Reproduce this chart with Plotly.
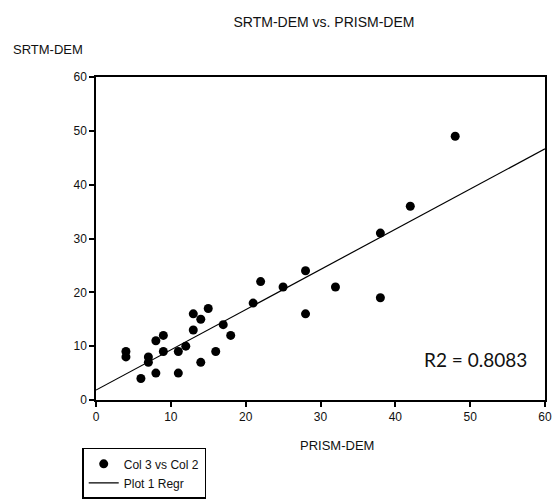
import numpy as np
import plotly.graph_objects as go

# Data
prism_dem = [4, 4, 6, 7, 7, 8, 8, 9, 9, 11, 11, 12, 13, 13, 14, 14, 15, 16, 17, 18,
             21, 22, 25, 28, 28, 32, 38, 38, 42, 48]
srtm_dem = [9, 8, 4, 8, 7, 5, 11, 12, 9, 9, 5, 10, 16, 13, 15, 7, 17, 9, 14, 12,
            18, 22, 21, 24, 16, 21, 31, 19, 36, 49]
x_ticks = [0, 10, 20, 30, 40, 50, 60]
y_ticks = [0, 10, 20, 30, 40, 50, 60]
r2_label = "R2 = 0.8083"

slope, intercept = np.polyfit(prism_dem, srtm_dem, 1)
reg_x = np.array([x_ticks[0], x_ticks[-1]], dtype=float)
reg_y = intercept + slope * reg_x

FONT = "Liberation Sans, Arial, sans-serif"

fig = go.Figure()
fig.add_trace(go.Scatter(
    x=prism_dem, y=srtm_dem, mode="markers", name="Col 3 vs Col 2",
    marker=dict(color="black", size=9, line=dict(width=0)),
))
fig.add_trace(go.Scatter(
    x=reg_x, y=reg_y, mode="lines", name="Plot 1 Regr",
    line=dict(color="black", width=1.2),
))

axis_common = dict(
    showgrid=False, zeroline=False, showline=True, linecolor="black", linewidth=1.5,
    mirror=True, ticks="outside", ticklen=5, tickwidth=1.5, tickcolor="black",
    tickfont=dict(family=FONT, size=12, color="#111"),
)
fig.update_xaxes(range=[0, 60], tickvals=x_ticks, **axis_common)
fig.update_yaxes(range=[0, 60], tickvals=y_ticks, **axis_common)

fig.update_layout(
    width=557, height=504,
    margin=dict(l=96, r=5, t=77, b=96),
    plot_bgcolor="white", paper_bgcolor="white",
    font=dict(family=FONT, color="#111"),
    title=dict(text="SRTM-DEM vs. PRISM-DEM", x=(96 + 552) / 2 / 557, xanchor="center",
               y=1 - 22 / 504, yanchor="middle", font=dict(family=FONT, size=14, color="#111")),
    showlegend=True,
    legend=dict(
        x=-14 / 456, y=(408 - 457) / 331, xanchor="left", yanchor="top",
        bordercolor="black", borderwidth=1.5, bgcolor="white",
        font=dict(family=FONT, size=12, color="#111"),
        tracegroupgap=0, itemwidth=30,
    ),
    annotations=[
        dict(text="SRTM-DEM", xref="paper", yref="paper", x=(10 - 96) / 456, y=(408 - 49) / 331,
             xanchor="left", yanchor="middle", showarrow=False,
             font=dict(family=FONT, size=13, color="#111")),
        dict(text="PRISM-DEM", xref="paper", yref="paper", x=(341 - 96) / 456, y=(408 - 455) / 331,
             xanchor="center", yanchor="middle", showarrow=False,
             font=dict(family=FONT, size=13, color="#111")),
        dict(text=r2_label, xref="paper", yref="paper", x=(536 - 96) / 456, y=(408 - 367) / 331,
             xanchor="right", yanchor="middle", showarrow=False,
             font=dict(family="Lato, Carlito, sans-serif", size=19, color="#111")),
    ],
)

fig.write_html("out.html")
